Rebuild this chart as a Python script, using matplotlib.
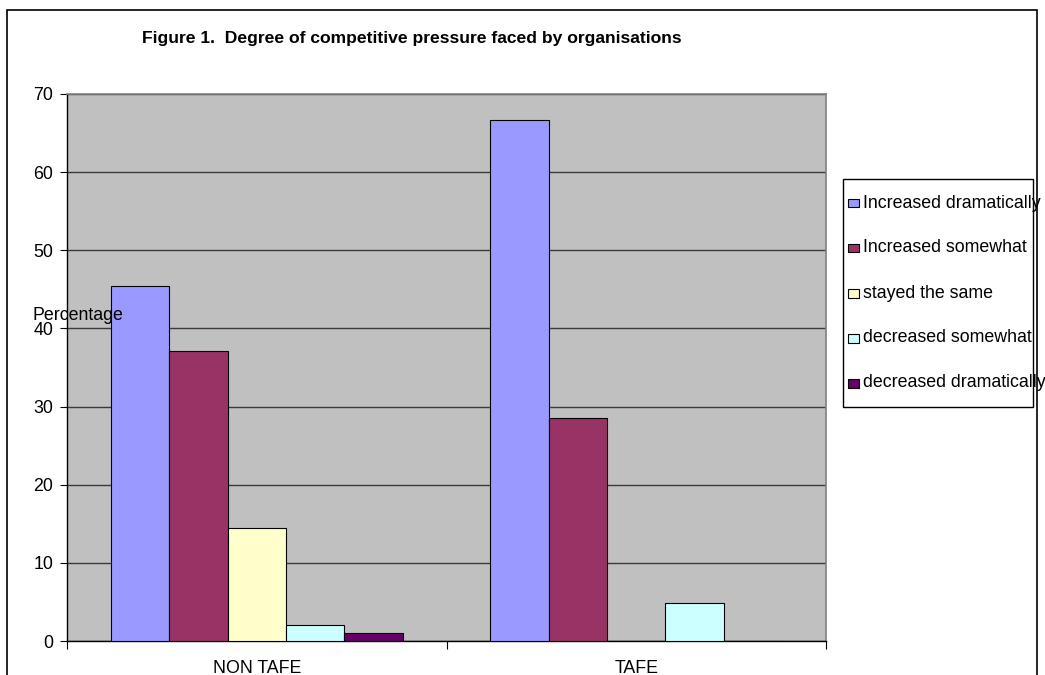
import matplotlib
matplotlib.use("Agg")
import matplotlib.pyplot as plt
from matplotlib.patches import Rectangle
import numpy as np

plt.rcParams['font.family'] = ['Liberation Sans', 'DejaVu Sans']

categories = ["NON TAFE", "TAFE"]
series_names = ["Increased dramatically", "Increased somewhat", "stayed the same",
                "decreased somewhat", "decreased dramatically"]
increased_dramatically = [45.4, 66.7]
increased_somewhat = [37.1, 28.5]
stayed_the_same = [14.4, 0.0]
decreased_somewhat = [2.0, 4.8]
decreased_dramatically = [1.0, 0.0]
series_values = [increased_dramatically, increased_somewhat, stayed_the_same,
                 decreased_somewhat, decreased_dramatically]
colors = ["#9999FF", "#993366", "#FFFFCC", "#CCFFFF", "#660066"]
y_ticks = [0, 10, 20, 30, 40, 50, 60, 70]

W, H = 1045, 675
fig = plt.figure(figsize=(W / 100, H / 100), dpi=100)

def fx(px):
    return px / W

def fy(py):
    return 1 - py / H

ax = fig.add_axes([fx(67), fy(641), fx(826) - fx(67), fy(94) - fy(641)])
ax.set_facecolor("#C0C0C0")

n = len(series_names)
bw = 1.0 / (n + 1.5)
centers = np.arange(len(categories)) + 0.5
for i, (vals, c) in enumerate(zip(series_values, colors)):
    ax.bar(centers + (i - (n - 1) / 2) * bw, vals, width=bw, color=c,
           edgecolor="black", linewidth=0.8, zorder=3)

ax.set_xlim(0, len(categories))
ax.set_ylim(0, 70)
ax.set_yticks(y_ticks)
ax.set_yticklabels([str(t) for t in y_ticks], fontsize=12.8)
ax.yaxis.grid(True, color="#3a3a3a", linewidth=1.0, zorder=1)
ax.set_axisbelow(True)
ax.tick_params(axis="y", length=5, width=0.8, pad=5, color="black")

ax.set_xticks(np.arange(len(categories) + 1))
ax.set_xticklabels([])
ax.set_xticks(centers, minor=True)
ax.set_xticklabels(categories, minor=True, fontsize=12.8)
ax.tick_params(axis="x", which="major", length=6, width=0.8, direction="out")
ax.tick_params(axis="x", which="minor", length=0, pad=13.5)

for s in ["left", "bottom"]:
    ax.spines[s].set_color("black")
    ax.spines[s].set_linewidth(1.0)
for s in ["top", "right"]:
    ax.spines[s].set_color("#808080")
    ax.spines[s].set_linewidth(1.2)

# title and axis label
fig.text(fx(142), fy(39), "Figure 1.  Degree of competitive pressure faced by organisations",
         fontsize=12.6, fontweight="bold", ha="left", va="center")
fig.text(fx(33), fy(315), "Percentage", fontsize=12.8, ha="left", va="center")

# outer frame
fig.patches.append(Rectangle((fx(7), -0.05), fx(1037) - fx(7), fy(10) + 0.05,
                             transform=fig.transFigure, fill=False,
                             edgecolor="black", linewidth=1.2, clip_on=False))

# legend
fig.patches.append(Rectangle((fx(843), fy(407)), fx(1033) - fx(843), fy(179) - fy(407),
                             transform=fig.transFigure, facecolor="white",
                             edgecolor="black", linewidth=1.0, zorder=5))
for i, (name, c) in enumerate(zip(series_names, colors)):
    yc = 203 + 45 * i
    fig.patches.append(Rectangle((fx(848), fy(yc + 4.5)), fx(859) - fx(848), fy(yc - 4.5) - fy(yc + 4.5),
                                 transform=fig.transFigure, facecolor=c,
                                 edgecolor="black", linewidth=0.8, zorder=6))
    fig.text(fx(863), fy(yc), name, fontsize=12.8, ha="left", va="center", zorder=7)

fig.savefig("out.png", dpi=100)
